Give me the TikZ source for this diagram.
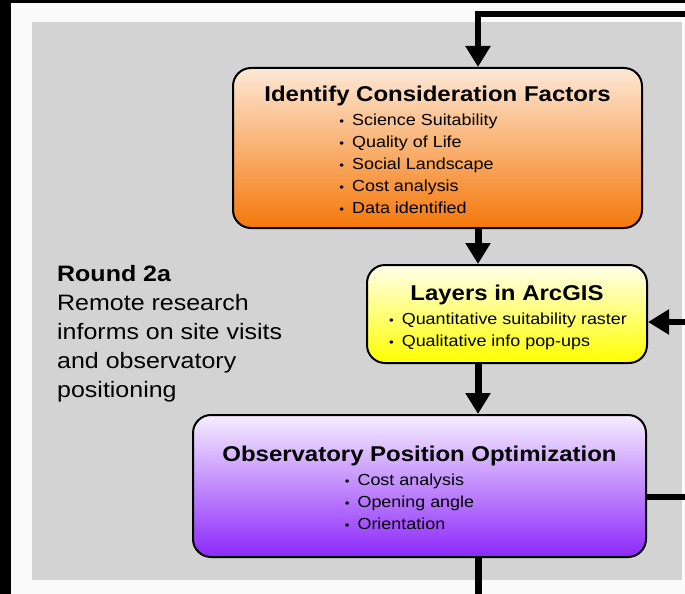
\documentclass[tikz,border=0pt]{standalone}
\usepackage{fontspec}
\setmainfont[FakeStretch=1.12]{Liberation Sans}
\usetikzlibrary{arrows.meta}

\definecolor{panelgray}{RGB}{211,211,211}
\definecolor{paper}{RGB}{250,250,250}
\definecolor{orangetop}{RGB}{253,232,214}
\definecolor{orangebot}{RGB}{245,120,10}
\definecolor{yellowtop}{RGB}{255,255,235}
\definecolor{yellowbot}{RGB}{255,255,0}
\definecolor{purpletop}{RGB}{246,238,255}
\definecolor{purplebot}{RGB}{140,40,250}

\newcommand{\stagetitle}[1]{{\fontsize{21.4}{26}\bfseries\rule{0pt}{26pt}#1}}
\newcommand{\bulletlist}[2][0pt]{\hspace*{#1}{\fontsize{16}{22}\selectfont\begin{tabular}[t]{@{}l@{}}#2\end{tabular}}}
\newcommand{\itm}{{\fontsize{12}{14}\selectfont\textbullet}\hspace{8pt}}

\begin{document}
\begin{tikzpicture}[
    x=1pt, y=-1pt,
    stagebox/.style={draw, line width=2pt, rounded corners=18pt, align=center,
        inner sep=0pt, font=\fontsize{16}{24}\selectfont},
    flow/.style={line width=7pt, -{Triangle[length=21pt,width=24pt]}},
    link/.style={line width=7pt}
]
% backdrop
\useasboundingbox (0,0) rectangle (685,594);
\fill[paper] (0,0) rectangle (685,594);
\fill[black] (0,0) rectangle (11,594);
\fill[black] (0,0) rectangle (685,3);
\fill[panelgray] (32,22) rectangle (682,580);

% stages
\node[stagebox, top color=orangetop, bottom color=orangebot,
    minimum width=409pt, minimum height=160pt] (factors) at (437.5,148)
    {\stagetitle{Identify Consideration Factors}\\
     \bulletlist[-38pt]{\itm Science Suitability\\ \itm Quality of Life\\
        \itm Social Landscape\\ \itm Cost analysis\\ \itm Data identified}};
\node[stagebox, top color=yellowtop, bottom color=yellowbot,
    minimum width=280pt, minimum height=98pt] (layers) at (507,314)
    {\stagetitle{Layers in ArcGIS}\\
     \bulletlist[2pt]{\itm Quantitative suitability raster\\ \itm Qualitative info pop-ups}};
\node[stagebox, top color=purpletop, bottom color=purplebot,
    minimum width=453pt, minimum height=142pt] (optim) at (419.5,486)
    {\stagetitle{Observatory Position Optimization}\\
     \bulletlist[-20pt]{\itm Cost analysis\\ \itm Opening angle\\ \itm Orientation}};

% note
\node[anchor=north west, align=left, inner sep=0pt,
    font=\fontsize{22.3}{29}\selectfont] (roundnote) at (57,265)
    {\textbf{Round 2a}\\Remote research\\informs on site visits\\and observatory\\positioning};

% connectors
\coordinate (topright) at (685,14);
\coordinate (topin) at (478,14);
\coordinate (rightin) at (685,322);
\coordinate (rightout) at (685,497);
\coordinate (bottomout) at (478,594);
\draw[flow, line width=6pt] (topright) -- (topin) -- (topin |- factors.north);
\draw[flow] (factors.south -| topin) -- (layers.north -| topin);
\draw[flow] (layers.south -| topin) -- (optim.north -| topin);
\draw[flow, line width=6pt] (rightin) -- (rightin -| layers.east);
\draw[link, line width=6pt] (rightout -| optim.east) -- (rightout);
\draw[link] (optim.south -| bottomout) -- (bottomout);
\end{tikzpicture}
\end{document}
